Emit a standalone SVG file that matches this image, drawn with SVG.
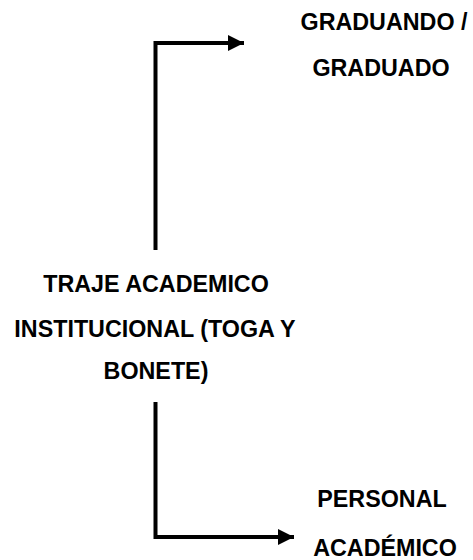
<svg xmlns="http://www.w3.org/2000/svg" width="473" height="560" viewBox="0 0 473 560">
<defs>
<style>
.t{font-family:"Liberation Sans",Arial,sans-serif;font-weight:bold;font-size:23.3px;fill:#000;text-anchor:middle}
.c{fill:none;stroke:#000;stroke-width:4;stroke-linejoin:miter;stroke-linecap:butt}
</style>
<marker id="ah" markerUnits="userSpaceOnUse" viewBox="0 0 16 16" markerWidth="16" markerHeight="16" refX="16" refY="8" orient="auto">
<path d="M0 0 L16 8 L0 16 Z" fill="#000"/>
</marker>
</defs>
<rect width="473" height="560" fill="#fff"/>
<g id="connectors">
<path class="c" d="M155.5 250 V43 H244" marker-end="url(#ah)"/>
<path class="c" d="M155.5 402 V537 H294" marker-end="url(#ah)"/>
</g>
<g id="graduado">
<text class="t" x="384" y="30">GRADUANDO /</text>
<text class="t" x="381" y="76">GRADUADO</text>
</g>
<g id="traje">
<text class="t" x="156" y="292">TRAJE ACADEMICO</text>
<text class="t" x="155" y="337">INSTITUCIONAL (TOGA Y</text>
<text class="t" x="156" y="379">BONETE)</text>
</g>
<g id="personal">
<text class="t" x="382" y="507">PERSONAL</text>
<text class="t" x="385" y="556">ACADÉMICO</text>
</g>
</svg>
